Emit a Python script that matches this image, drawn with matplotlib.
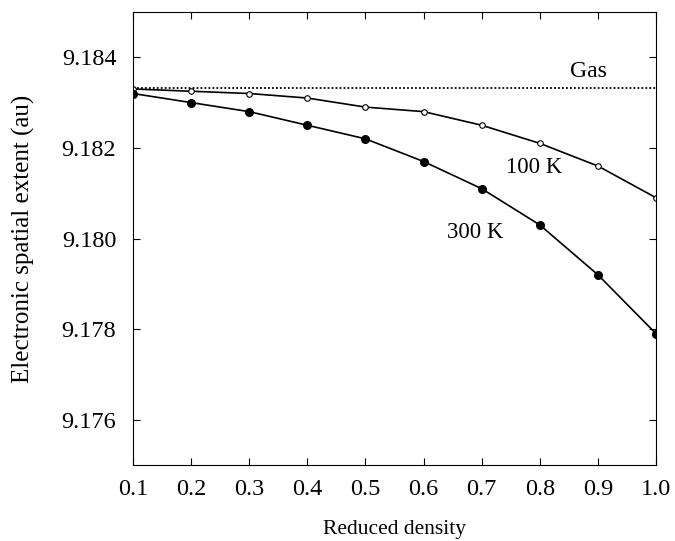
import matplotlib
matplotlib.use('Agg')
import matplotlib.pyplot as plt

density = [0.1, 0.2, 0.3, 0.4, 0.5, 0.6, 0.7, 0.8, 0.9, 1.0]
extent_100k = [9.1833, 9.18325, 9.1832, 9.1831, 9.1829, 9.1828, 9.1825, 9.1821, 9.1816, 9.1809]
extent_300k = [9.1832, 9.1830, 9.1828, 9.1825, 9.1822, 9.1817, 9.1811, 9.1803, 9.1792, 9.1779]
gas_value = 9.18332
y_ticks = [9.176, 9.178, 9.180, 9.182, 9.184]

plt.rcParams['font.family'] = ['Liberation Serif', 'DejaVu Serif']

fig = plt.figure(figsize=(6.75, 5.41), dpi=100)
ax = fig.add_axes([0.197, 0.140, 0.775, 0.838])

ax.axhline(gas_value, color='black', linestyle=(0, (1, 1.2)), linewidth=1.3)
ax.plot(density, extent_100k, color='black', linewidth=1.2, marker='o', markersize=4,
        markerfacecolor='white', markeredgecolor='black', markeredgewidth=0.8)
ax.plot(density, extent_300k, color='black', linewidth=1.2, marker='o', markersize=5.5,
        markerfacecolor='black')

ax.text(0.883, 9.18369, 'Gas', fontsize=17, ha='center', va='center')
ax.text(0.79, 9.18157, '100 K', fontsize=16.5, ha='center', va='center')
ax.text(0.689, 9.18014, '300 K', fontsize=16.5, ha='center', va='center')

ax.set_xlim(0.1, 1.0)
ax.set_ylim(9.175, 9.185)
ax.set_xticks(density)
ax.set_xticklabels(['%.1f' % d for d in density])
ax.set_yticks(y_ticks)
ax.set_yticklabels(['%.3f' % v for v in y_ticks])
ax.tick_params(direction='in', top=True, right=True, labelsize=17.5, length=5)
ax.tick_params(axis='x', pad=10)
ax.tick_params(axis='y', pad=12)
for s in ax.spines.values():
    s.set_linewidth(0.8)

ax.set_xlabel('Reduced density', fontsize=15.5, labelpad=14)
ax.set_ylabel('Electronic spatial extent (au)', fontsize=18, labelpad=19)

fig.savefig('out.png', dpi=100)
